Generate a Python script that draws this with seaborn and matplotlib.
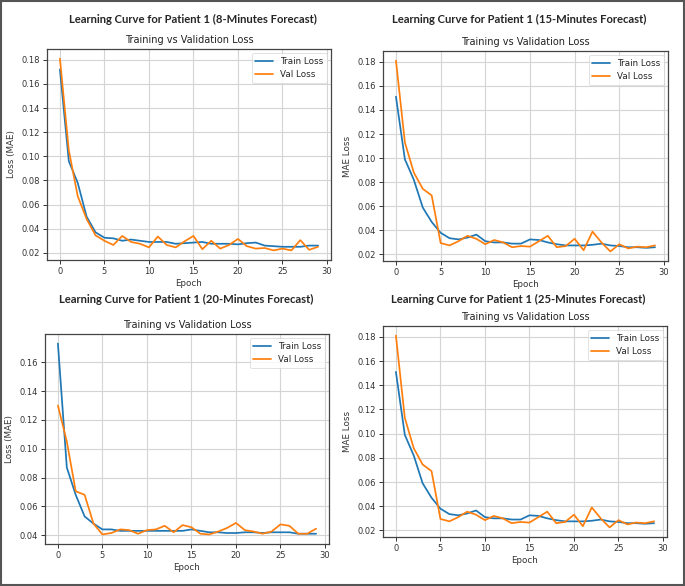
import numpy as np
import pandas as pd
import matplotlib
matplotlib.use("Agg")
import matplotlib.pyplot as plt
from matplotlib.patches import Rectangle
import seaborn as sns

epochs = list(range(30))

# 8-minute forecast
train_8 = [0.172, 0.096, 0.078, 0.050, 0.037, 0.0325, 0.032, 0.030, 0.031, 0.030,
           0.029, 0.029, 0.029, 0.0275, 0.028, 0.0285, 0.029, 0.0275, 0.0275, 0.0275,
           0.027, 0.028, 0.0285, 0.026, 0.0255, 0.025, 0.025, 0.025, 0.026, 0.026]
val_8 = [0.181, 0.105, 0.067, 0.048, 0.0345, 0.030, 0.0265, 0.034, 0.029, 0.0275,
         0.0245, 0.0335, 0.0265, 0.0245, 0.0295, 0.034, 0.023, 0.030, 0.0235, 0.0265,
         0.0315, 0.0255, 0.0235, 0.024, 0.022, 0.0235, 0.022, 0.0305, 0.0225, 0.025]

# 15-minute forecast (the 25-minute panel shows the same curves)
train_15 = [0.151, 0.099, 0.082, 0.059, 0.047, 0.038, 0.0335, 0.0325, 0.034, 0.0365,
            0.031, 0.030, 0.030, 0.029, 0.029, 0.0325, 0.032, 0.030, 0.0285, 0.0275,
            0.0275, 0.0275, 0.028, 0.029, 0.0275, 0.027, 0.026, 0.026, 0.0255, 0.026]
val_15 = [0.181, 0.113, 0.088, 0.0745, 0.069, 0.0295, 0.0275, 0.031, 0.0355, 0.033,
          0.0285, 0.032, 0.030, 0.026, 0.027, 0.0265, 0.031, 0.0355, 0.026, 0.027,
          0.033, 0.0235, 0.039, 0.030, 0.0225, 0.0285, 0.025, 0.0265, 0.026, 0.0275]

# 20-minute forecast
train_20 = [0.173, 0.087, 0.068, 0.053, 0.048, 0.044, 0.044, 0.043, 0.043, 0.043,
            0.043, 0.043, 0.043, 0.043, 0.043, 0.044, 0.043, 0.042, 0.042, 0.0415,
            0.0415, 0.042, 0.042, 0.0415, 0.042, 0.042, 0.042, 0.041, 0.041, 0.041]
val_20 = [0.130, 0.105, 0.0705, 0.068, 0.048, 0.0405, 0.0415, 0.044, 0.0435, 0.041,
          0.0435, 0.044, 0.0465, 0.042, 0.047, 0.0455, 0.041, 0.0405, 0.0425, 0.045,
          0.0485, 0.0435, 0.0425, 0.041, 0.0425, 0.0475, 0.0465, 0.041, 0.041, 0.0445]

train_25 = train_15
val_25 = val_15

panels = [
    ("Learning Curve for Patient 1 (8-Minutes Forecast)", "Loss (MAE)", train_8, val_8),
    ("Learning Curve for Patient 1 (15-Minutes Forecast)", "MAE Loss", train_15, val_15),
    ("Learning Curve for Patient 1 (20-Minutes Forecast)", "Loss (MAE)", train_20, val_20),
    ("Learning Curve for Patient 1 (25-Minutes Forecast)", "MAE Loss", train_25, val_25),
]

# axes boxes in pixels: left, right, top, bottom ; bold title position x, y
W, H = 685, 586
boxes = [(47, 331, 49, 260, 193, 19),
         (383, 668, 51, 261, 519, 19),
         (45, 329, 334, 544, 186, 299),
         (383, 667, 326, 537, 518, 299)]

sns.set_style("ticks", {"axes.grid": True, "grid.color": "#d0d0d0",
                        "axes.edgecolor": "#444444"})
plt.rcParams['font.family'] = ['DejaVu Sans']

fig = plt.figure(figsize=(W / 100, H / 100), dpi=100)
fig.patch.set_facecolor("white")

for (title, ylab, tr, va), (l, r, t, b, tx, ty) in zip(panels, boxes):
    ax = fig.add_axes([l / W, 1 - b / H, (r - l) / W, (b - t) / H])
    df = pd.DataFrame({
        "Epoch": epochs + epochs,
        "Loss": tr + va,
        "Series": ["Train Loss"] * len(tr) + ["Val Loss"] * len(va),
    })
    sns.lineplot(data=df, x="Epoch", y="Loss", hue="Series", ax=ax,
                 palette=["#1f77b4", "#ff7f0e"], linewidth=1.25)
    ax.set_title("Training vs Validation Loss", fontsize=7, pad=4, color="#222222")
    ax.set_xlabel("Epoch", fontsize=6.3, labelpad=2, color="#333333")
    ax.set_ylabel(ylab, fontsize=6.3, labelpad=4, color="#333333")
    ax.set_xticks([0, 5, 10, 15, 20, 25, 30])
    ax.tick_params(labelsize=6, length=3, width=0.7, pad=2, colors="#333333")
    ax.grid(True, color="#d4d4d4", linewidth=0.8)
    for s in ax.spines.values():
        s.set_linewidth(0.9)
    leg = ax.legend(loc="upper right", fontsize=6.3, frameon=True)
    leg.get_frame().set_linewidth(0.5)
    fig.text(tx / W, 1 - ty / H, title, ha="center", va="center",
             fontsize=8.1, fontweight="bold", family=["Lato", "DejaVu Sans"])

fig.patches.append(Rectangle((0.001, 0.002), 0.997, 0.996, transform=fig.transFigure,
                             fill=False, edgecolor="#555555", linewidth=1.5))

fig.savefig("out.png", dpi=100)
